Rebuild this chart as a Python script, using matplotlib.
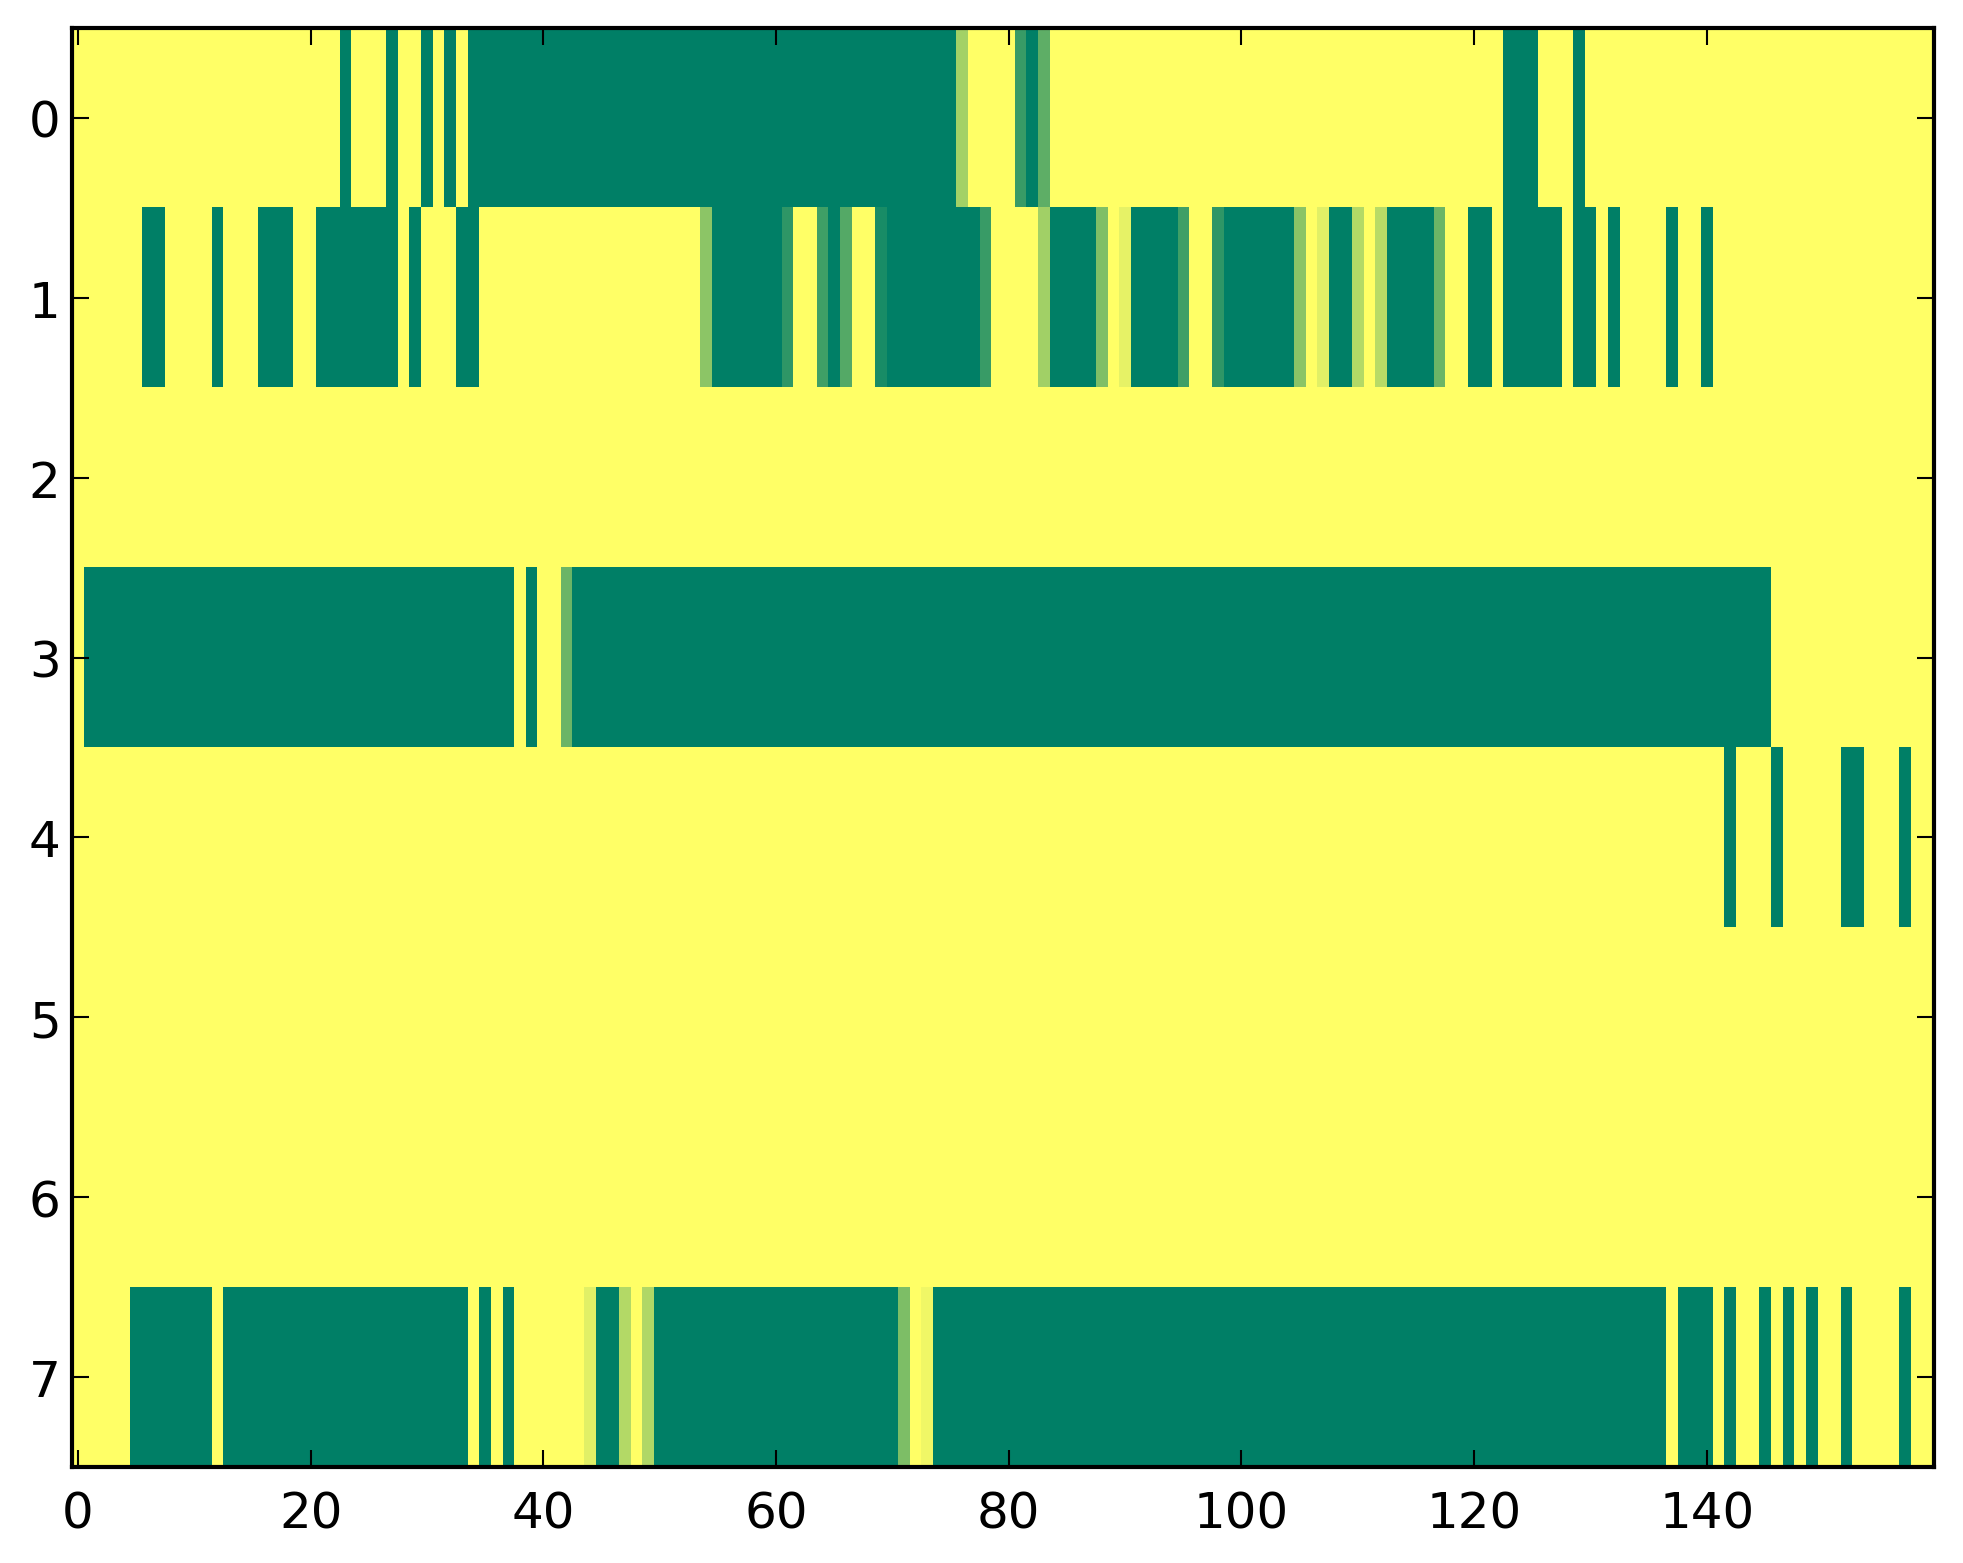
import numpy as np
import matplotlib
matplotlib.use("Agg")
import matplotlib.pyplot as plt

# -----------------------------
# data: 8 rows x 160 columns
# full-green runs (inclusive column ranges) per row
# -----------------------------
n_rows = 8
n_cols = 160

row0_runs = [(23, 23), (27, 27), (30, 30), (32, 32), (34, 75), (82, 82),
             (123, 125), (129, 129)]
row1_runs = [(6, 7), (12, 12), (16, 18), (21, 27), (29, 29), (33, 34),
             (55, 60), (65, 65), (70, 77), (84, 87), (91, 94), (99, 104),
             (108, 109), (113, 116), (120, 121), (123, 127), (129, 130),
             (132, 132), (137, 137), (140, 140)]
row2_runs = []
row3_runs = [(1, 37), (39, 39), (43, 145)]
row4_runs = [(142, 142), (146, 146), (152, 153), (157, 157)]
row5_runs = []
row6_runs = []
row7_runs = [(5, 11), (13, 33), (35, 35), (37, 37), (45, 46), (50, 70),
             (74, 136), (138, 140), (142, 142), (145, 145), (147, 147),
             (149, 149), (152, 152), (157, 157)]

# partial cells: (row, column, value)
partial_cells = [
    (0, 76, 0.36), (0, 81, 0.78), (0, 83, 0.63),
    (1, 54, 0.45), (1, 61, 0.82), (1, 64, 0.75), (1, 66, 0.67),
    (1, 69, 0.90), (1, 78, 0.78), (1, 83, 0.37), (1, 88, 0.50),
    (1, 90, 0.10), (1, 95, 0.75), (1, 98, 0.82), (1, 105, 0.46),
    (1, 107, 0.12), (1, 110, 0.30), (1, 112, 0.28), (1, 117, 0.58),
    (3, 42, 0.58),
    (7, 44, 0.12), (7, 47, 0.30), (7, 49, 0.31), (7, 71, 0.51),
    (7, 73, 0.06),
]

x_ticks = [0, 20, 40, 60, 80, 100, 120, 140]
y_ticks = [0, 1, 2, 3, 4, 5, 6, 7]

# -----------------------------
# build the matrix
# -----------------------------
all_runs = [row0_runs, row1_runs, row2_runs, row3_runs,
            row4_runs, row5_runs, row6_runs, row7_runs]
grid = np.zeros((n_rows, n_cols))
for r, runs in enumerate(all_runs):
    for a, b in runs:
        grid[r, a:b + 1] = 1.0
for r, c, v in partial_cells:
    grid[r, c] = v

# -----------------------------
# plot
# -----------------------------
plt.rcParams['xtick.direction'] = 'in'
plt.rcParams['ytick.direction'] = 'in'
plt.rcParams['xtick.top'] = True
plt.rcParams['ytick.right'] = True
plt.rcParams['xtick.major.size'] = 4
plt.rcParams['ytick.major.size'] = 4
plt.rcParams['xtick.major.width'] = 0.5
plt.rcParams['ytick.major.width'] = 0.5
plt.rcParams['xtick.major.pad'] = 5.5
plt.rcParams['ytick.major.pad'] = 2.8
plt.rcParams['axes.linewidth'] = 1.0
plt.rcParams['font.size'] = 12

fig = plt.figure(figsize=(1963 / 300, 1564 / 300), dpi=300)
ax = fig.add_axes([0.0368, 0.0614, 0.9482, 0.9201])
ax.imshow(grid, cmap='summer_r', vmin=0, vmax=1, aspect='auto',
          interpolation='nearest')
ax.set_xticks(x_ticks)
ax.set_yticks(y_ticks)

fig.savefig('out.png', dpi=300)
